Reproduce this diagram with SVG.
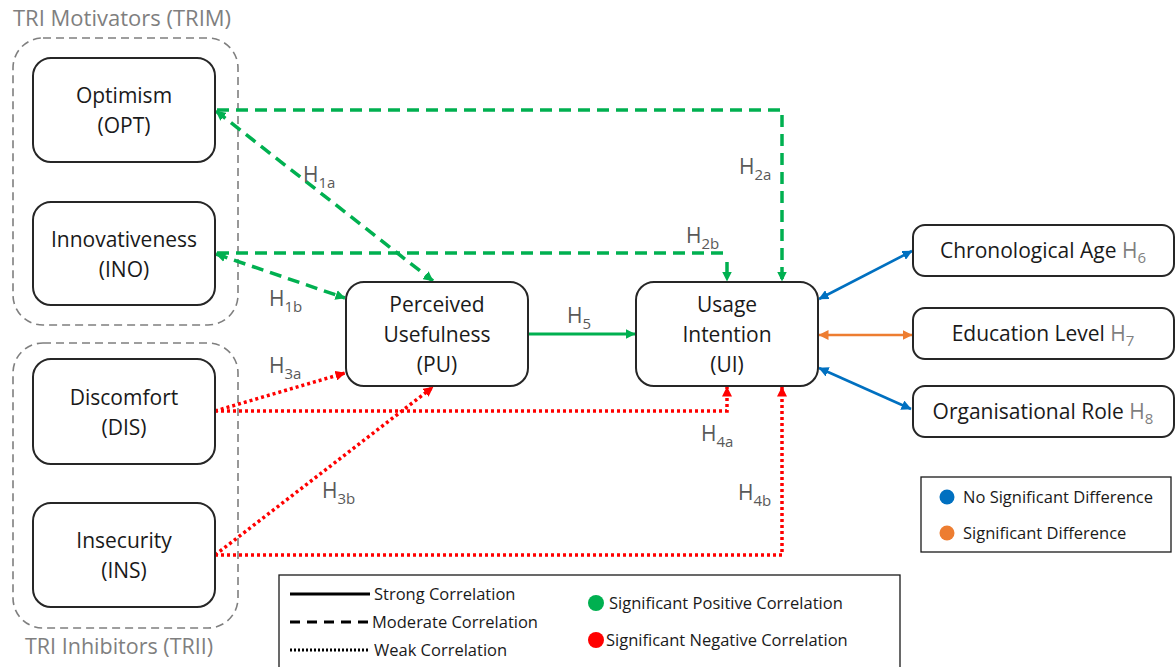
<svg xmlns="http://www.w3.org/2000/svg" width="1175" height="667" viewBox="0 0 1175 667">
<style>
text{font-family:"Open Sans","Liberation Sans",sans-serif;}
.node rect{fill:#fff;stroke:#262626;stroke-width:2;}
.nt{font-size:21px;fill:#1a1a1a;text-anchor:middle;}
.grp{fill:none;stroke:#7f7f7f;stroke-width:1.6;stroke-dasharray:8 5;}
.gt{font-size:22px;fill:#7f7f7f;}
.hl{font-size:21px;fill:#595959;}
.sub{font-size:15px;}
.gd{fill:none;stroke:#00B050;stroke-width:3.5;stroke-dasharray:12 7;}
.gs{fill:none;stroke:#00B050;stroke-width:3;}
.rd{fill:none;stroke:#FF0000;stroke-width:3.5;stroke-dasharray:3 3;}
.bl{fill:none;stroke:#0070C0;stroke-width:2.6;}
.or{fill:none;stroke:#ED7D31;stroke-width:2.6;}
.lg{font-size:16.5px;fill:#1a1a1a;}
</style>
<defs>
<marker id="ag" markerUnits="userSpaceOnUse" markerWidth="11" markerHeight="10" refX="9.5" refY="5" orient="auto-start-reverse"><path d="M0,0 L10,5 L0,10 z" fill="#00B050"/></marker>
<marker id="ar" markerUnits="userSpaceOnUse" markerWidth="11" markerHeight="10" refX="9.5" refY="5" orient="auto-start-reverse"><path d="M0,0 L10,5 L0,10 z" fill="#FF0000"/></marker>
<marker id="ab" markerUnits="userSpaceOnUse" markerWidth="11" markerHeight="10" refX="9.5" refY="5" orient="auto-start-reverse"><path d="M0,0 L10,5 L0,10 z" fill="#0070C0"/></marker>
<marker id="ao" markerUnits="userSpaceOnUse" markerWidth="11" markerHeight="10" refX="9.5" refY="5" orient="auto-start-reverse"><path d="M0,0 L10,5 L0,10 z" fill="#ED7D31"/></marker>
</defs>
<rect width="1175" height="667" fill="#fff"/>

<g id="group-trim">
<rect class="grp" x="13" y="38" width="225" height="287" rx="30"/>
<text class="gt" x="13" y="26">TRI Motivators (TRIM)</text>
</g>
<g id="group-trii">
<rect class="grp" x="13" y="343" width="225" height="285" rx="30"/>
<text class="gt" x="25" y="654" style="font-size:21.5px">TRI Inhibitors (TRII)</text>
</g>

<g id="connectors">
<path class="gd" d="M217,110 H782 V281" marker-end="url(#ag)"/>
<path class="gd" d="M217,253 H728 M727,262 V281" marker-end="url(#ag)"/>
<path class="gd" d="M216,111 L433,281" marker-start="url(#ag)" marker-end="url(#ag)"/>
<path class="gd" d="M216,254 L345,298" marker-start="url(#ag)" marker-end="url(#ag)"/>
<path class="gs" d="M528,334 H635" marker-end="url(#ag)"/>
<path class="rd" d="M215,411 L345,373" marker-end="url(#ar)"/>
<path class="rd" d="M215,411 H727 V387" marker-end="url(#ar)"/>
<path class="rd" d="M215,555 L433,387" marker-end="url(#ar)"/>
<path class="rd" d="M215,555 H782 V387" marker-end="url(#ar)"/>
<path class="bl" d="M819,299 L912,251" marker-start="url(#ab)" marker-end="url(#ab)"/>
<path class="or" d="M819,335 H912" marker-start="url(#ao)" marker-end="url(#ao)"/>
<path class="bl" d="M819,368 L911,409" marker-start="url(#ab)" marker-end="url(#ab)"/>
<text class="hl" x="303" y="182">H<tspan class="sub" dy="6">1a</tspan></text>
<text class="hl" x="269" y="306">H<tspan class="sub" dy="6">1b</tspan></text>
<text class="hl" x="739" y="174">H<tspan class="sub" dy="6">2a</tspan></text>
<text class="hl" x="686" y="243">H<tspan class="sub" dy="6">2b</tspan></text>
<text class="hl" x="567" y="323">H<tspan class="sub" dy="6">5</tspan></text>
<text class="hl" x="269" y="373">H<tspan class="sub" dy="6">3a</tspan></text>
<text class="hl" x="322" y="498">H<tspan class="sub" dy="6">3b</tspan></text>
<text class="hl" x="701" y="441">H<tspan class="sub" dy="6">4a</tspan></text>
<text class="hl" x="738" y="500">H<tspan class="sub" dy="6">4b</tspan></text>
</g>

<g id="node-opt" class="node">
<rect x="33" y="58" width="182" height="104" rx="18"/>
<text class="nt" x="124" y="103">Optimism</text>
<text class="nt" x="124" y="133">(OPT)</text>
</g>
<g id="node-ino" class="node">
<rect x="33" y="202" width="182" height="103" rx="18"/>
<text class="nt" x="124" y="247">Innovativeness</text>
<text class="nt" x="124" y="277">(INO)</text>
</g>
<g id="node-dis" class="node">
<rect x="33" y="359" width="182" height="105" rx="18"/>
<text class="nt" x="124" y="405">Discomfort</text>
<text class="nt" x="124" y="435">(DIS)</text>
</g>
<g id="node-ins" class="node">
<rect x="33" y="503" width="182" height="104" rx="18"/>
<text class="nt" x="124" y="548">Insecurity</text>
<text class="nt" x="124" y="578">(INS)</text>
</g>
<g id="node-pu" class="node">
<rect x="346" y="282" width="182" height="104" rx="18"/>
<text class="nt" x="437" y="312">Perceived</text>
<text class="nt" x="437" y="342">Usefulness</text>
<text class="nt" x="437" y="372">(PU)</text>
</g>
<g id="node-ui" class="node">
<rect x="636" y="282" width="182" height="104" rx="18"/>
<text class="nt" x="727" y="312">Usage</text>
<text class="nt" x="727" y="342">Intention</text>
<text class="nt" x="727" y="372">(UI)</text>
</g>
<g id="node-age" class="node">
<rect x="913" y="225" width="261" height="51" rx="12"/>
<text class="nt" x="1043" y="258">Chronological Age <tspan fill="#7f7f7f">H<tspan class="sub" dy="5">6</tspan></tspan></text>
</g>
<g id="node-edu" class="node">
<rect x="913" y="308" width="261" height="51" rx="12"/>
<text class="nt" x="1043" y="341">Education Level <tspan fill="#7f7f7f">H<tspan class="sub" dy="5">7</tspan></tspan></text>
</g>
<g id="node-role" class="node">
<rect x="913" y="386" width="261" height="51" rx="12"/>
<text class="nt" x="1043" y="419">Organisational Role <tspan fill="#7f7f7f">H<tspan class="sub" dy="5">8</tspan></tspan></text>
</g>

<g id="legend-diff">
<rect x="921" y="477" width="250" height="75" fill="#fff" stroke="#1a1a1a" stroke-width="1.3"/>
<circle cx="947" cy="497" r="7.5" fill="#0070C0"/>
<text class="lg" x="963" y="503">No Significant Difference</text>
<circle cx="947" cy="533" r="7.5" fill="#ED7D31"/>
<text class="lg" x="963" y="539">Significant Difference</text>
</g>

<g id="legend-corr">
<rect x="279" y="575" width="621" height="100" fill="#fff" stroke="#1a1a1a" stroke-width="1.3"/>
<line x1="290" y1="594" x2="370" y2="594" stroke="#000" stroke-width="3"/>
<text class="lg" x="374" y="600">Strong Correlation</text>
<line x1="290" y1="622" x2="370" y2="622" stroke="#000" stroke-width="3" stroke-dasharray="10 7"/>
<text class="lg" x="372" y="628">Moderate Correlation</text>
<line x1="290" y1="650" x2="370" y2="650" stroke="#000" stroke-width="3" stroke-dasharray="2 2"/>
<text class="lg" x="374" y="656">Weak Correlation</text>
<circle cx="596" cy="603" r="8" fill="#00B050"/>
<text class="lg" x="609" y="609">Significant Positive Correlation</text>
<circle cx="596" cy="640" r="8" fill="#FF0000"/>
<text class="lg" x="606" y="646">Significant Negative Correlation</text>
</g>
</svg>
